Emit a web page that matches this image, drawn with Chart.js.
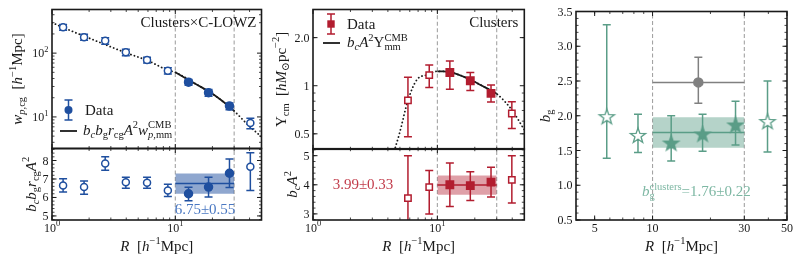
<!DOCTYPE html>
<html>
<head>
<meta charset="utf-8">
<script src="https://cdn.jsdelivr.net/npm/chart.js@4.4.0/dist/chart.umd.min.js"></script>
<style>
  body { margin: 0; background: #fff; }
  .wrap { position: relative; width: 797px; height: 262px; }
  canvas { position: absolute; }
</style>
</head>
<body>
<div class="wrap">
<canvas id="c1t"></canvas>
<canvas id="c1b"></canvas>
<canvas id="c2t"></canvas>
<canvas id="c2b"></canvas>
<canvas id="c3"></canvas>
</div>
<script>
// ---- data ----
const FIT_MIN = 10, FIT_MAX = 30;

// left: clusters x C-LOWZ
const r1 = [1.23, 1.82, 2.7, 3.97, 5.9, 8.7, 12.8, 18.6, 27.5, 40.6];
const wp1 = [255, 178, 156, 103, 78, 53, 35, 24, 14.8, 8.0];
const wp1Err = [27, 19, 18, 12, 8, 6, 3.7, 2.9, 1.8, 1.5];
const ratio1 = [6.65, 6.56, 7.84, 6.82, 6.80, 6.38, 6.20, 6.56, 7.31, 7.66];
const ratio1Lo = [0.36, 0.38, 0.37, 0.32, 0.30, 0.33, 0.38, 0.53, 0.77, 1.28];
const ratio1Hi = [0.36, 0.33, 0.37, 0.28, 0.30, 0.34, 0.35, 0.53, 0.77, 0.76];
const model1R = [1, 1.5, 2, 2.7, 4, 6, 8.7, 10, 15, 20, 27.5, 30, 40, 50];
const model1 = [300, 215, 172, 136, 101, 76, 54, 50, 32, 23, 14.4, 12.4, 7.1, 4.9];
const fit1 = { mean: 6.75, err: 0.55 };

// middle: clusters lensing
const r2 = [5.8, 8.6, 12.6, 18.4, 27, 39.7];
const ups2 = [0.81, 1.166, 1.21, 1.074, 0.895, 0.67];
const ups2Lo = [0.33, 0.19, 0.26, 0.14, 0.105, 0.13];
const ups2Hi = [0.32, 0.18, 0.22, 0.136, 0.115, 0.125];
const ratio2 = [3.54, 3.92, 4.00, 3.97, 4.09, 4.17];
const ratio2Lo = [1.46, 0.92, 0.75, 0.51, 0.51, 0.80];
const ratio2Hi = [1.46, 0.57, 0.75, 0.48, 0.51, 0.83];
const model2R = [4.5, 4.95, 5.8, 6.84, 8.26, 10, 11.2, 14, 18.4, 24, 30, 40, 50];
const model2 = [0.39, 0.5, 0.81, 1.09, 1.17, 1.23, 1.23, 1.19, 1.09, 0.98, 0.89, 0.70, 0.53];
const fit2 = { mean: 3.99, err: 0.33 };

// right: galaxy bias
const r3 = [5.78, 8.4, 12.5, 18.2, 27, 39.6];
const bg3 = [1.98, 1.71, 1.60, 1.73, 1.86, 1.91];
const bg3Lo = [0.59, 0.24, 0.25, 0.24, 0.28, 0.43];
const bg3Hi = [1.33, 0.31, 0.40, 0.29, 0.35, 0.59];
const greyR = [17.3], greyB = [2.48], greyLo = [0.30], greyHi = [0.36];
const fit3 = { mean: 1.76, err: 0.22 };

// tick labels
const yTicks1b = [5, 6, 7, 8], yTicks2t = [0.5, 1, 2], yTicks2b = [3, 4, 5];
const xTicks3 = [5, 10, 30, 50], yTicks3 = [0.5, 1, 1.5, 2, 2.5, 3, 3.5];

// ---- style ----
const SERIF = "'Liberation Serif','DejaVu Serif',serif";
const BLUE = '#1f4f9f', RED = '#b21d2f', GREEN = '#5a9d87', GREY = '#808080';
const INK = '#1a1a1a';

function drawMath(ctx, toks, x, y, size, color, align, rot) {
  ctx.save();
  ctx.translate(x, y);
  if (rot) ctx.rotate(rot);
  const items = [];
  let w = 0, base = 0, eqW = 0;
  for (const [txt, fl] of toks) {
    const small = fl.includes('_') || fl.includes('^');
    const fs = small ? size * 0.7 : size;
    const font = (fl.includes('i') ? 'italic ' : '') + fs + 'px ' + SERIF;
    ctx.font = font;
    const tw = ctx.measureText(txt).width;
    const dy = fl.includes('_') ? size * 0.22 : fl.includes('^') ? -size * 0.42 : 0;
    let xx;
    if (fl.includes('=')) { xx = base + eqW; eqW += tw; w = Math.max(w, base + eqW); }
    else if (small) { xx = w; w += tw; }
    else { xx = w; w += tw; base = w; eqW = 0; }
    items.push([txt, font, xx, dy]);
  }
  const x0 = align === 'center' ? -w / 2 : align === 'right' ? -w : 0;
  ctx.fillStyle = color;
  ctx.textBaseline = 'alphabetic';
  ctx.textAlign = 'left';
  for (const [txt, font, xx, dy] of items) { ctx.font = font; ctx.fillText(txt, x0 + xx, dy); }
  ctx.restore();
}

function starCanvas(fill, stroke, R) {
  const s = Math.ceil(2 * R + 4), c = document.createElement('canvas');
  c.width = c.height = s;
  const g = c.getContext('2d');
  g.beginPath();
  for (let k = 0; k < 10; k++) {
    const r = k % 2 ? R * 0.4 : R;
    const ang = -Math.PI / 2 + k * Math.PI / 5;
    g.lineTo(s / 2 + r * Math.cos(ang), s / 2 + r * Math.sin(ang));
  }
  g.closePath();
  g.fillStyle = fill; g.fill();
  g.lineWidth = 1.3; g.strokeStyle = stroke; g.stroke();
  return c;
}

// error bars drawn right before the markers of a dataset
const errorBars = {
  id: 'errorBars',
  beforeDatasetDraw(chart, args) {
    const ds = chart.data.datasets[args.index];
    if (!ds.errLo && !ds.xLo) return;
    const { ctx, chartArea: a } = chart;
    const xs = chart.scales.x, ys = chart.scales.y;
    ctx.save();
    ctx.beginPath(); ctx.rect(a.left, a.top, a.right - a.left, a.bottom - a.top); ctx.clip();
    ctx.strokeStyle = ds.pointBorderColor;
    ctx.lineWidth = 1.5;
    const cap = 4;
    ds.data.forEach((p, i) => {
      const x = xs.getPixelForValue(p.x);
      if (ds.errLo) {
        const y1 = ys.getPixelForValue(p.y - ds.errLo[i]);
        const y2 = ys.getPixelForValue(p.y + ds.errHi[i]);
        ctx.beginPath();
        ctx.moveTo(x, y1); ctx.lineTo(x, y2);
        ctx.moveTo(x - cap, y1); ctx.lineTo(x + cap, y1);
        ctx.moveTo(x - cap, y2); ctx.lineTo(x + cap, y2);
        ctx.stroke();
      }
      if (ds.xLo) {
        const y = ys.getPixelForValue(p.y);
        ctx.beginPath();
        ctx.moveTo(xs.getPixelForValue(ds.xLo[i]), y);
        ctx.lineTo(xs.getPixelForValue(ds.xHi[i]), y);
        ctx.stroke();
      }
    });
    ctx.restore();
  }
};

function logTicks(lo, hi) {
  const out = [];
  for (let d = Math.floor(Math.log10(lo)); d <= Math.ceil(Math.log10(hi)); d++)
    for (let m = 2; m <= 9; m++) { const v = m * Math.pow(10, d); if (v > lo && v < hi) out.push(v); }
  return out;
}
function linTicks(lo, hi, step) {
  const out = [];
  for (let v = Math.ceil(lo / step) * step; v < hi; v += step) out.push(+v.toFixed(4));
  return out;
}

// frame, inward ticks, tick labels, titles, legends (positions relative to the plot area)
function makeDeco(cfg) {
  return {
    id: 'deco',
    afterDraw(chart) {
      const { ctx, chartArea: a } = chart;
      const xs = chart.scales.x, ys = chart.scales.y;
      ctx.save();
      ctx.strokeStyle = INK;
      const tk = (vals, len, lw) => {
        ctx.lineWidth = lw;
        ctx.beginPath();
        vals.x.forEach(v => {
          const p = xs.getPixelForValue(v);
          ctx.moveTo(p, a.bottom); ctx.lineTo(p, a.bottom - len);
          ctx.moveTo(p, a.top); ctx.lineTo(p, a.top + len);
        });
        vals.y.forEach(v => {
          const p = ys.getPixelForValue(v);
          ctx.moveTo(a.left, p); ctx.lineTo(a.left + len, p);
          ctx.moveTo(a.right, p); ctx.lineTo(a.right - len, p);
        });
        ctx.stroke();
      };
      tk(cfg.major, 4.5, 1);
      tk(cfg.minor, 2.5, 0.8);
      ctx.lineWidth = 1.6;
      ctx.strokeRect(a.left, a.top, a.right - a.left, a.bottom - a.top);
      (cfg.xLabels || []).forEach(([v, toks]) =>
        drawMath(ctx, toks, xs.getPixelForValue(v), a.bottom + 11.5, 12, INK, 'center'));
      (cfg.yLabels || []).forEach(([v, toks]) =>
        drawMath(ctx, toks, a.left - 3.5, ys.getPixelForValue(v) + 4, 12, INK, 'right'));
      if (cfg.yTitle) drawMath(ctx, cfg.yTitle, a.left + cfg.yTitleDx, (a.top + a.bottom) / 2, 15, INK, 'center', -Math.PI / 2);
      if (cfg.xTitle) drawMath(ctx, cfg.xTitle, (a.left + a.right) / 2, a.bottom + 30.5, 15, INK, 'center');
      (cfg.texts || []).forEach(t => drawMath(ctx, t.toks, a.left + t.dx, a.top + t.dy, t.size || 15, t.color || INK, t.align || 'left'));
      if (cfg.legend) cfg.legend(ctx, a);
      ctx.restore();
    }
  };
}
const num = (vals, fmt) => vals.map(v => [v, [[fmt ? fmt(v) : String(v), '']]]);
const pow = vals => vals.map(v => [v, [['10', ''], [String(Math.round(Math.log10(v))), '^']]]);

function sc(type, min, max, axis) {
  return {
    type, min, max,
    grid: { display: false, drawTicks: false },
    border: { display: false },
    ticks: { display: false },
    afterFit: s => {
      s.paddingTop = s.paddingBottom = s.paddingLeft = s.paddingRight = 0;
      if (axis === 'x') s.height = 0; else s.width = 0;
    }
  };
}

// box: canvas placement on the page [left, top, width, height]
// pad: layout padding [left, top, right, bottom]; sides below the markers' overflow are
// widened by Chart.js's auto padding, so the shared edges land on the same page row
function makeChart(id, box, pad, xScale, yScale, datasets, deco) {
  const cv = document.getElementById(id);
  cv.width = box[2]; cv.height = box[3];
  cv.style.left = box[0] + 'px'; cv.style.top = box[1] + 'px';
  return new Chart(cv, {
    type: 'line',
    data: { datasets },
    options: {
      responsive: false, animation: false, events: [],
      layout: { padding: { left: pad[0], top: pad[1], right: pad[2], bottom: pad[3] } },
      scales: { x: xScale, y: yScale },
      plugins: { legend: { display: false }, tooltip: { enabled: false } }
    },
    plugins: [errorBars, makeDeco(deco)]
  });
}

const pts = (xs, ys) => xs.map((x, i) => ({ x, y: ys[i] }));
const inFit = r => r > FIT_MIN && r < FIT_MAX;
function part(xs, ys, lo, hi, keep) {
  const idx = xs.map((x, i) => i).filter(i => keep(xs[i]));
  return { data: idx.map(i => ({ x: xs[i], y: ys[i] })), errLo: idx.map(i => lo[i]), errHi: idx.map(i => hi[i]) };
}
function markers(p, color, style, radius, filled) {
  return {
    data: p.data, errLo: p.errLo, errHi: p.errHi, showLine: false,
    pointStyle: style, pointRadius: radius, pointBorderWidth: 1.5,
    pointBackgroundColor: filled ? color : '#fff', pointBorderColor: color,
    borderColor: color, order: 0
  };
}
function curve(xs, ys, color, width, dash, order) {
  return {
    data: pts(xs, ys), borderColor: color, borderWidth: width, borderDash: dash || [],
    borderCapStyle: dash ? 'round' : 'butt', pointRadius: 0, cubicInterpolationMode: 'monotone',
    fill: false, order: order
  };
}
function fitPart(xs, ys) {
  const keep = xs.map(r => r >= FIT_MIN && r <= FIT_MAX);
  return [xs.filter((r, i) => keep[i]), ys.filter((v, i) => keep[i])];
}
function vlines(ymin, ymax) {
  return [FIT_MIN, FIT_MAX].map(x => ({
    data: [{ x, y: ymin }, { x, y: ymax }], borderColor: '#a3a3a3', borderWidth: 1.1,
    borderDash: [4, 2.5], pointRadius: 0, fill: false, order: 8
  }));
}
function band(fit, color, fillColor) {
  const xs = [FIT_MIN, FIT_MAX];
  return [
    { data: pts(xs, [fit.mean + fit.err, fit.mean + fit.err]), borderColor: 'rgba(0,0,0,0)', pointRadius: 0, fill: '+1', backgroundColor: fillColor, order: 6 },
    { data: pts(xs, [fit.mean - fit.err, fit.mean - fit.err]), borderColor: 'rgba(0,0,0,0)', pointRadius: 0, fill: false, order: 7 },
    curve(xs, [fit.mean, fit.mean], color, 1.5, null, 2)
  ];
}
function errLegend(ctx, x, y, color, style) {
  ctx.strokeStyle = color; ctx.fillStyle = color; ctx.lineWidth = 1.5;
  ctx.beginPath();
  ctx.moveTo(x, y - 10); ctx.lineTo(x, y + 10);
  ctx.moveTo(x - 4, y - 10); ctx.lineTo(x + 4, y - 10);
  ctx.moveTo(x - 4, y + 10); ctx.lineTo(x + 4, y + 10);
  ctx.stroke();
  if (style === 'circle') { ctx.beginPath(); ctx.arc(x, y, 4, 0, 2 * Math.PI); ctx.fill(); }
  else ctx.fillRect(x - 3.7, y - 3.7, 7.4, 7.4);
}
function lineLegend(ctx, x1, x2, y) {
  ctx.strokeStyle = INK; ctx.lineWidth = 1.8; ctx.setLineDash([]);
  ctx.beginPath(); ctx.moveTo(x1, y); ctx.lineTo(x2, y); ctx.stroke();
}

const X_MAJOR_12 = [1, 10], X_MINOR_12 = logTicks(1, 50);
const R_TITLE = [['R', 'i'], ['  [', ''], ['h', 'i'], ['−1', '^'], ['Mpc]', '']];

// ---- left column ----
makeChart('c1t', [0, 0, 267, 154], [52, 9.5, 1, 2], sc('logarithmic', 1, 50, 'x'), sc('logarithmic', 3.2, 483, 'y'), [
  markers(part(r1, wp1, wp1Err, wp1Err, r => !inFit(r)), BLUE, 'circle', 3.5, false),
  markers(part(r1, wp1, wp1Err, wp1Err, inFit), BLUE, 'circle', 4, true),
  curve(...fitPart(model1R, model1), INK, 1.8, null, 2),
  curve(model1R, model1, INK, 1.8, [0.1, 3.6], 3),
  ...vlines(3.2, 483)
], {
  major: { x: X_MAJOR_12, y: [10, 100] }, minor: { x: X_MINOR_12, y: logTicks(3.2, 483) },
  yLabels: pow([10, 100]), yTitleDx: -30,
  yTitle: [['w', 'i'], ['p,', '_i'], ['cg', '_'], ['  [', ''], ['h', 'i'], ['−1', '^'], ['Mpc]', '']],
  texts: [{ toks: [['Clusters×C-LOWZ', '']], dx: 204.5, dy: 17.5, align: 'right' }],
  legend: (ctx, a) => {
    errLegend(ctx, a.left + 16.5, a.top + 100.5, BLUE, 'circle');
    drawMath(ctx, [['Data', '']], a.left + 33, a.top + 105.5, 15, INK, 'left');
    lineLegend(ctx, a.left + 8, a.left + 25, a.top + 121.5);
    drawMath(ctx, [['b', 'i'], ['c', '_i'], ['b', 'i'], ['g', '_'], ['r', 'i'], ['cg', '_'], ['A', 'i'], ['2', '^'], ['w', 'i'], ['p,', '_i'], ['mm', '_'], ['CMB', '^=']], a.left + 31, a.top + 125, 15, INK, 'left');
  }
});
makeChart('c1b', [0, 143, 267, 119], [52, 1, 1, 42], sc('logarithmic', 1, 50, 'x'), sc('linear', 4.78, 8.65, 'y'), [
  markers(part(r1, ratio1, ratio1Lo, ratio1Hi, r => !inFit(r)), BLUE, 'circle', 3.5, false),
  markers(part(r1, ratio1, ratio1Lo, ratio1Hi, inFit), BLUE, 'circle', 4, true),
  ...band(fit1, BLUE, 'rgba(31,79,159,0.5)'),
  ...vlines(4.78, 8.65)
], {
  major: { x: X_MAJOR_12, y: yTicks1b }, minor: { x: X_MINOR_12, y: linTicks(4.78, 8.65, 0.2) },
  xLabels: pow(X_MAJOR_12), yLabels: num(yTicks1b), yTitleDx: -16.5, xTitle: R_TITLE,
  yTitle: [['b', 'i'], ['c', '_i'], ['b', 'i'], ['g', '_'], ['r', 'i'], ['cg', '_'], ['A', 'i'], ['2', '^']],
  texts: [{ toks: [['6.75±0.55', '']], dx: 153, dy: 65, align: 'center', color: '#4a78c2' }]
});

// ---- middle column ----
makeChart('c2t', [266, 0, 265, 156], [47, 9.5, 1, 2], sc('logarithmic', 1, 50, 'x'), sc('logarithmic', 0.4, 3.0, 'y'), [
  markers(part(r2, ups2, ups2Lo, ups2Hi, r => !inFit(r)), RED, 'rect', 4.5, false),
  markers(part(r2, ups2, ups2Lo, ups2Hi, inFit), RED, 'rect', 5.2, true),
  curve(...fitPart(model2R, model2), INK, 1.8, null, 2),
  curve(model2R, model2, INK, 1.8, [0.1, 3.6], 3),
  ...vlines(0.4, 3.0)
], {
  major: { x: X_MAJOR_12, y: yTicks2t }, minor: { x: X_MINOR_12, y: logTicks(0.4, 3.0) },
  yLabels: num(yTicks2t, v => v === 2 ? '2.0' : String(v)), yTitleDx: -27.5,
  yTitle: [['Υ', ''], ['cm', '_'], ['  [', ''], ['h', 'i'], ['M', 'i'], ['⊙', '_'], ['pc', ''], ['−2', '^'], [']', '']],
  texts: [{ toks: [['Clusters', '']], dx: 205.3, dy: 17.5, align: 'right' }],
  legend: (ctx, a) => {
    errLegend(ctx, a.left + 18, a.top + 14.5, RED, 'rect');
    drawMath(ctx, [['Data', '']], a.left + 34, a.top + 19, 15, INK, 'left');
    lineLegend(ctx, a.left + 10, a.left + 27, a.top + 33.5);
    drawMath(ctx, [['b', 'i'], ['c', '_i'], ['A', 'i'], ['2', '^'], ['Υ', ''], ['mm', '_'], ['CMB', '^=']], a.left + 34, a.top + 37.5, 15, INK, 'left');
  }
});
makeChart('c2b', [266, 142, 265, 120], [47, 1, 1, 42], sc('logarithmic', 1, 50, 'x'), sc('linear', 2.79, 5.24, 'y'), [
  markers(part(r2, ratio2, ratio2Lo, ratio2Hi, r => !inFit(r)), RED, 'rect', 4.5, false),
  markers(part(r2, ratio2, ratio2Lo, ratio2Hi, inFit), RED, 'rect', 5.2, true),
  ...band(fit2, RED, 'rgba(178,29,47,0.42)'),
  ...vlines(2.79, 5.24)
], {
  major: { x: X_MAJOR_12, y: yTicks2b }, minor: { x: X_MINOR_12, y: linTicks(2.79, 5.24, 0.2) },
  xLabels: pow(X_MAJOR_12), yLabels: num(yTicks2b), yTitleDx: -16, xTitle: R_TITLE,
  yTitle: [['b', 'i'], ['c', '_i'], ['A', 'i'], ['2', '^']],
  texts: [{ toks: [['3.99±0.33', '']], dx: 50, dy: 40, align: 'center', color: '#c23c4b' }]
});

// ---- right column ----
const starOpen = starCanvas('#fff', GREEN, 8), starFull = starCanvas(GREEN, GREEN, 8);
const op3 = part(r3, bg3, bg3Lo, bg3Hi, r => !inFit(r)), fp3 = part(r3, bg3, bg3Lo, bg3Hi, inFit);
makeChart('c3', [532, 0, 265, 262], [44, 11.5, 10, 42], sc('logarithmic', 4, 50, 'x'), sc('linear', 0.5, 3.5, 'y'), [
  markers(op3, GREEN, starOpen, 8, false),
  markers(fp3, GREEN, starFull, 8, true),
  Object.assign(markers({ data: pts(greyR, greyB), errLo: greyLo, errHi: greyHi }, GREY, 'circle', 4.5, true),
    { xLo: [FIT_MIN], xHi: [FIT_MAX] }),
  ...band(fit3, GREEN, 'rgba(90,157,135,0.45)'),
  ...vlines(0.5, 3.5)
], {
  major: { x: xTicks3, y: yTicks3 },
  minor: { x: logTicks(4, 50).filter(v => v !== 30), y: linTicks(0.5, 3.5, 0.1) },
  xLabels: num(xTicks3), yLabels: num(yTicks3, v => v.toFixed(1)),
  yTitleDx: -26, xTitle: R_TITLE,
  yTitle: [['b', 'i'], ['g', '_']],
  texts: [{ toks: [['b', 'i'], ['g', '_'], ['clusters', '^='], ['=1.76±0.22', '']], dx: 66, dy: 184.5, color: '#7db7a3' }]
});
</script>
</body>
</html>
